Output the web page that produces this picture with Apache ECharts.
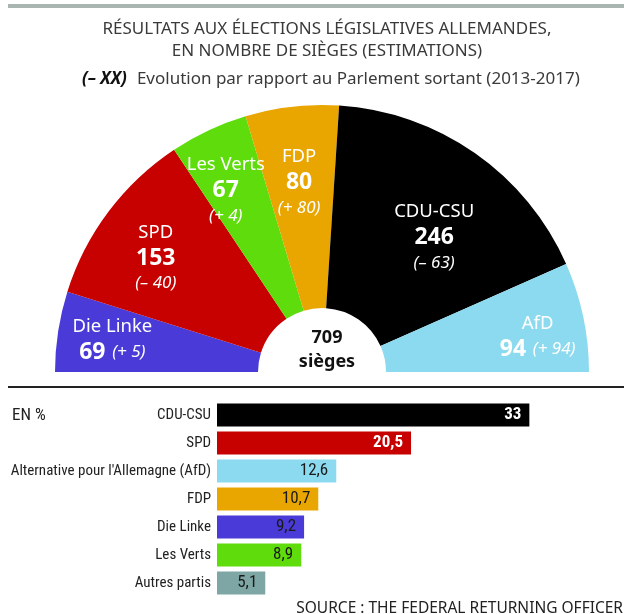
<!DOCTYPE html>
<html>
<head>
<meta charset="utf-8">
<script src="https://cdn.jsdelivr.net/npm/echarts@6/dist/echarts.min.js"></script>
<style>
  html, body { margin: 0; padding: 0; background: #fff; }
  #main { width: 624px; height: 614px; }
</style>
</head>
<body>
<div id="main"></div>
<script>
var chart = echarts.init(document.getElementById('main'));

// sièges (demi-cercle), de gauche à droite
var partis = ['Die Linke', 'SPD', 'Les Verts', 'FDP', 'CDU-CSU', 'AfD'];
var sieges = [69, 153, 67, 80, 246, 94];
var evolution = [5, -40, 4, 80, -63, 94];
var couleurs = ['#4a3bd8', '#c70000', '#5edc0c', '#e9a500', '#000000', '#8cdaef'];

// résultats en %
var barNoms = ['CDU-CSU', 'SPD', "Alternative pour l'Allemagne (AfD)", 'FDP', 'Die Linke', 'Les Verts', 'Autres partis'];
var barValeurs = [33, 20.5, 12.6, 10.7, 9.2, 8.9, 5.1];
var barCouleurs = ['#000000', '#c70000', '#8cdaef', '#e9a500', '#4a3bd8', '#5edc0c', '#7ea6a4'];

// petits décalages des étiquettes [dx, dy]
var decalage = [[-9, -1], [-4, 8], [-10, 2], [0, 12], [-4, 32], [17, 7]];

var total = sieges.reduce(function (a, b) { return a + b; }, 0);

function fmtEvol(v) {
    return '(' + (v < 0 ? '– ' + (-v) : '+ ' + v) + ')';
}

var pieData = partis.map(function (p, i) {
    return { name: p, value: sieges[i], itemStyle: { color: couleurs[i] } };
});

var labelData = partis.map(function (p, i) {
    var d = decalage[i];
    var oneLine = (p === 'Die Linke' || p === 'AfD');
    return {
        name: p,
        value: sieges[i],
        label: {
            padding: [Math.max(d[1], 0) * 2, Math.max(-d[0], 0) * 2, Math.max(-d[1], 0) * 2, Math.max(d[0], 0) * 2],
            formatter: oneLine
                ? '{n|' + p + '}\n{v|' + sieges[i] + '}  {c|' + fmtEvol(evolution[i]) + '}'
                : '{n|' + p + '}\n{v|' + sieges[i] + '}\n{c|' + fmtEvol(evolution[i]) + '}'
        }
    };
});

var font = 'Noto Sans';
var condensed = "'Roboto Condensed', Roboto, sans-serif";

option = {
    animation: false,
    backgroundColor: '#fff',
    title: [{
        text: 'RÉSULTATS AUX ÉLECTIONS LÉGISLATIVES ALLEMANDES,\nEN NOMBRE DE SIÈGES (ESTIMATIONS)',
        left: 322,
        top: 13,
        textAlign: 'center',
        textStyle: { fontFamily: font, fontSize: 17, fontWeight: 'normal', color: '#3a3a3a', lineHeight: 22 }
    }, {
        text: '{b|(– XX)}  {t|Evolution par rapport au Parlement sortant (2013-2017)}',
        left: 77,
        top: 65,
        textStyle: {
            rich: {
                b: { fontFamily: font, fontSize: 17, fontWeight: 'bold', fontStyle: 'italic', color: '#111' },
                t: { fontFamily: font, fontSize: 17, fontWeight: 'normal', color: '#3a3a3a' }
            }
        }
    }, {
        text: total + '\nsièges',
        left: 322,
        top: 321,
        textAlign: 'center',
        textStyle: { fontFamily: font, fontSize: 18, fontWeight: 'bold', color: '#111', lineHeight: 24 }
    }, {
        text: 'EN %',
        left: 7,
        top: 402,
        textStyle: { fontFamily: condensed, fontSize: 17, fontWeight: 'normal', color: '#222' }
    }, {
        text: 'SOURCE : THE FEDERAL RETURNING OFFICER',
        right: -4,
        top: 596,
        textStyle: { fontFamily: font, fontSize: 15.5, fontWeight: 'normal', color: '#222' }
    }],
    graphic: [{
        type: 'rect',
        shape: { x: 8, y: 4, width: 616, height: 4 },
        style: { fill: '#a9b5b0' }
    }, {
        type: 'rect',
        shape: { x: 8, y: 386, width: 616, height: 2 },
        style: { fill: '#222' }
    }],
    grid: {
        left: 217,
        right: 0,
        top: 401,
        height: 196
    },
    xAxis: {
        type: 'value',
        min: 0,
        max: 43,
        show: false
    },
    yAxis: {
        type: 'category',
        inverse: true,
        data: barNoms,
        axisLine: { show: false },
        axisTick: { show: false },
        axisLabel: { fontFamily: condensed, fontSize: 15, color: '#222', margin: 6 }
    },
    series: [{
        type: 'pie',
        silent: true,
        center: [322, 372],
        radius: [64, 267],
        startAngle: 180,
        endAngle: 0,
        clockwise: true,
        label: { show: false },
        labelLine: { show: false },
        data: pieData
    }, {
        type: 'pie',
        silent: true,
        center: [322, 372],
        radius: [138, 262],
        startAngle: 180,
        endAngle: 0,
        clockwise: true,
        itemStyle: { color: 'rgba(0,0,0,0)' },
        labelLine: { show: false },
        label: {
            show: true,
            position: 'inside',
            align: 'center',
            rich: {
                n: { fontFamily: font, fontSize: 18.5, color: '#fff', lineHeight: 25, align: 'center' },
                v: { fontFamily: font, fontSize: 23, fontWeight: 'bold', color: '#fff', lineHeight: 26, align: 'center' },
                c: { fontFamily: font, fontSize: 17, fontStyle: 'italic', color: '#fff', lineHeight: 25, align: 'center' }
            }
        },
        data: labelData
    }, {
        type: 'bar',
        silent: true,
        barWidth: 23,
        data: barValeurs.map(function (v, i) {
            var fort = i < 2;
            return {
                value: v,
                itemStyle: { color: barCouleurs[i] },
                label: {
                    color: fort ? '#fff' : '#1a1a1a',
                    fontWeight: fort ? 'bold' : 'normal'
                }
            };
        }),
        label: {
            show: true,
            position: 'insideRight',
            distance: 8,
            fontFamily: condensed,
            fontSize: 17,
            formatter: function (p) { return String(p.value).replace('.', ','); }
        }
    }]
};

chart.setOption(option);
</script>
</body>
</html>
